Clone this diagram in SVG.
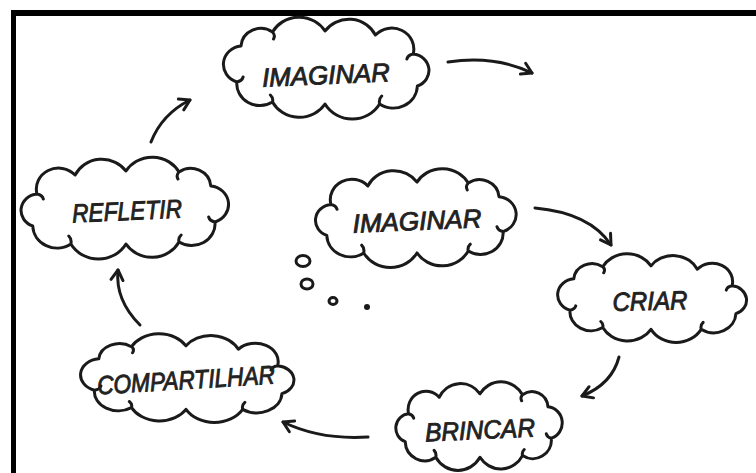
<svg xmlns="http://www.w3.org/2000/svg" xmlns:xlink="http://www.w3.org/1999/xlink" width="756" height="473" viewBox="0 0 756 473">
<style>
.cl{fill:#fff;stroke:#1a1a1a;stroke-width:3;stroke-linejoin:round;stroke-linecap:round;vector-effect:non-scaling-stroke}
.lb{font-family:"Liberation Sans",Arial,sans-serif;font-style:italic;font-weight:normal;font-size:26px;fill:#222;stroke:#222;stroke-width:0.9;text-anchor:middle}
.ar{fill:none;stroke:#1a1a1a;stroke-width:3;stroke-linecap:round}
.bub{fill:none;stroke:#1a1a1a;stroke-width:3}
</style>
<defs>
<path id="cloud" class="cl" d="M-80,-22 A19,19 0 0 1 -50,-36 A29,29 0 0 1 0,-37 A28,28 0 0 1 48,-33 A21,21 0 0 1 84,-14 A16.5,16.5 0 0 1 88,18 A23,23 0 0 1 52,36 A30,30 0 0 1 0,36 A29,29 0 0 1 -50,34 A22,22 0 0 1 -84,14 A18.5,18.5 0 0 1 -80,-22 Z M-50,-36 q3,3 1,7 M84,-14 q-5,1 -6,5 M52,36 q-1,-5 2,-8 M-50,34 q1,-4 -2,-7 M-84,14 q5,-1 6,-5"/>
<marker id="ah" viewBox="-12 -8 14 16" markerWidth="14" markerHeight="16" refX="0" refY="0" orient="auto" markerUnits="userSpaceOnUse" overflow="visible">
<path d="M-10,-6 L0,0 L-10,6" fill="none" stroke="#1a1a1a" stroke-width="3" stroke-linecap="round" stroke-linejoin="round"/>
</marker>
</defs>
<rect width="756" height="473" fill="#fff"/>
<g id="frame">
<rect x="11" y="10" width="745" height="6" fill="#000"/>
<rect x="11" y="10" width="5" height="463" fill="#000"/>
</g>
<g id="connectors">
<path class="ar" d="M448,62 Q495,55 532,73" marker-end="url(#ah)"/>
<path class="ar" d="M535,208 Q590,213 611,245" marker-end="url(#ah)"/>
<path class="ar" d="M619,357 Q612,384 582,396" marker-end="url(#ah)"/>
<path class="ar" d="M368,437 Q320,440 283,422" marker-end="url(#ah)"/>
<path class="ar" d="M140,325 Q115,300 118,270" marker-end="url(#ah)"/>
<path class="ar" d="M151,142 Q162,114 190,100" marker-end="url(#ah)"/>
</g>
<g id="imaginar-top">
<use href="#cloud" transform="translate(325,68) scale(1.05,1)"/>
<text class="lb" x="326" y="84" textLength="128" lengthAdjust="spacingAndGlyphs" transform="rotate(-2.5 326 76)">IMAGINAR</text>
</g>
<g id="refletir">
<use href="#cloud" transform="translate(126,208) scale(-1.06,1)"/>
<text class="lb" x="127" y="220" font-size="25" textLength="110" lengthAdjust="spacingAndGlyphs" transform="rotate(-2.5 127 212)">REFLETIR</text>
</g>
<g id="imaginar-center">
<use href="#cloud" transform="translate(417,218) scale(-1.025,0.97)"/>
<text class="lb" x="417" y="230" textLength="129" lengthAdjust="spacingAndGlyphs" transform="rotate(-2.5 417 222)">IMAGINAR</text>
</g>
<g id="thought">
<ellipse class="bub" cx="303" cy="261" rx="7" ry="5.5"/>
<ellipse class="bub" cx="307" cy="284" rx="6" ry="5"/>
<ellipse class="bub" cx="333" cy="301" rx="4" ry="3.5"/>
<circle cx="367" cy="307" r="3" fill="#1a1a1a"/>
</g>
<g id="criar">
<use href="#cloud" transform="translate(651,298) scale(0.965,0.87)"/>
<text class="lb" x="650" y="310" textLength="75" lengthAdjust="spacingAndGlyphs" transform="rotate(-1.5 650 302)">CRIAR</text>
</g>
<g id="brincar">
<use href="#cloud" transform="translate(480,426) scale(-0.85,0.87)"/>
<text class="lb" x="480" y="439" textLength="110" lengthAdjust="spacingAndGlyphs" transform="rotate(-2.5 480 431)">BRINCAR</text>
</g>
<g id="compartilhar">
<use href="#cloud" transform="translate(186,378) scale(1.09,0.87)"/>
<text class="lb" x="186" y="389" font-size="24" textLength="178" lengthAdjust="spacingAndGlyphs" transform="rotate(-3.5 186 381)">COMPARTILHAR</text>
</g>
</svg>
